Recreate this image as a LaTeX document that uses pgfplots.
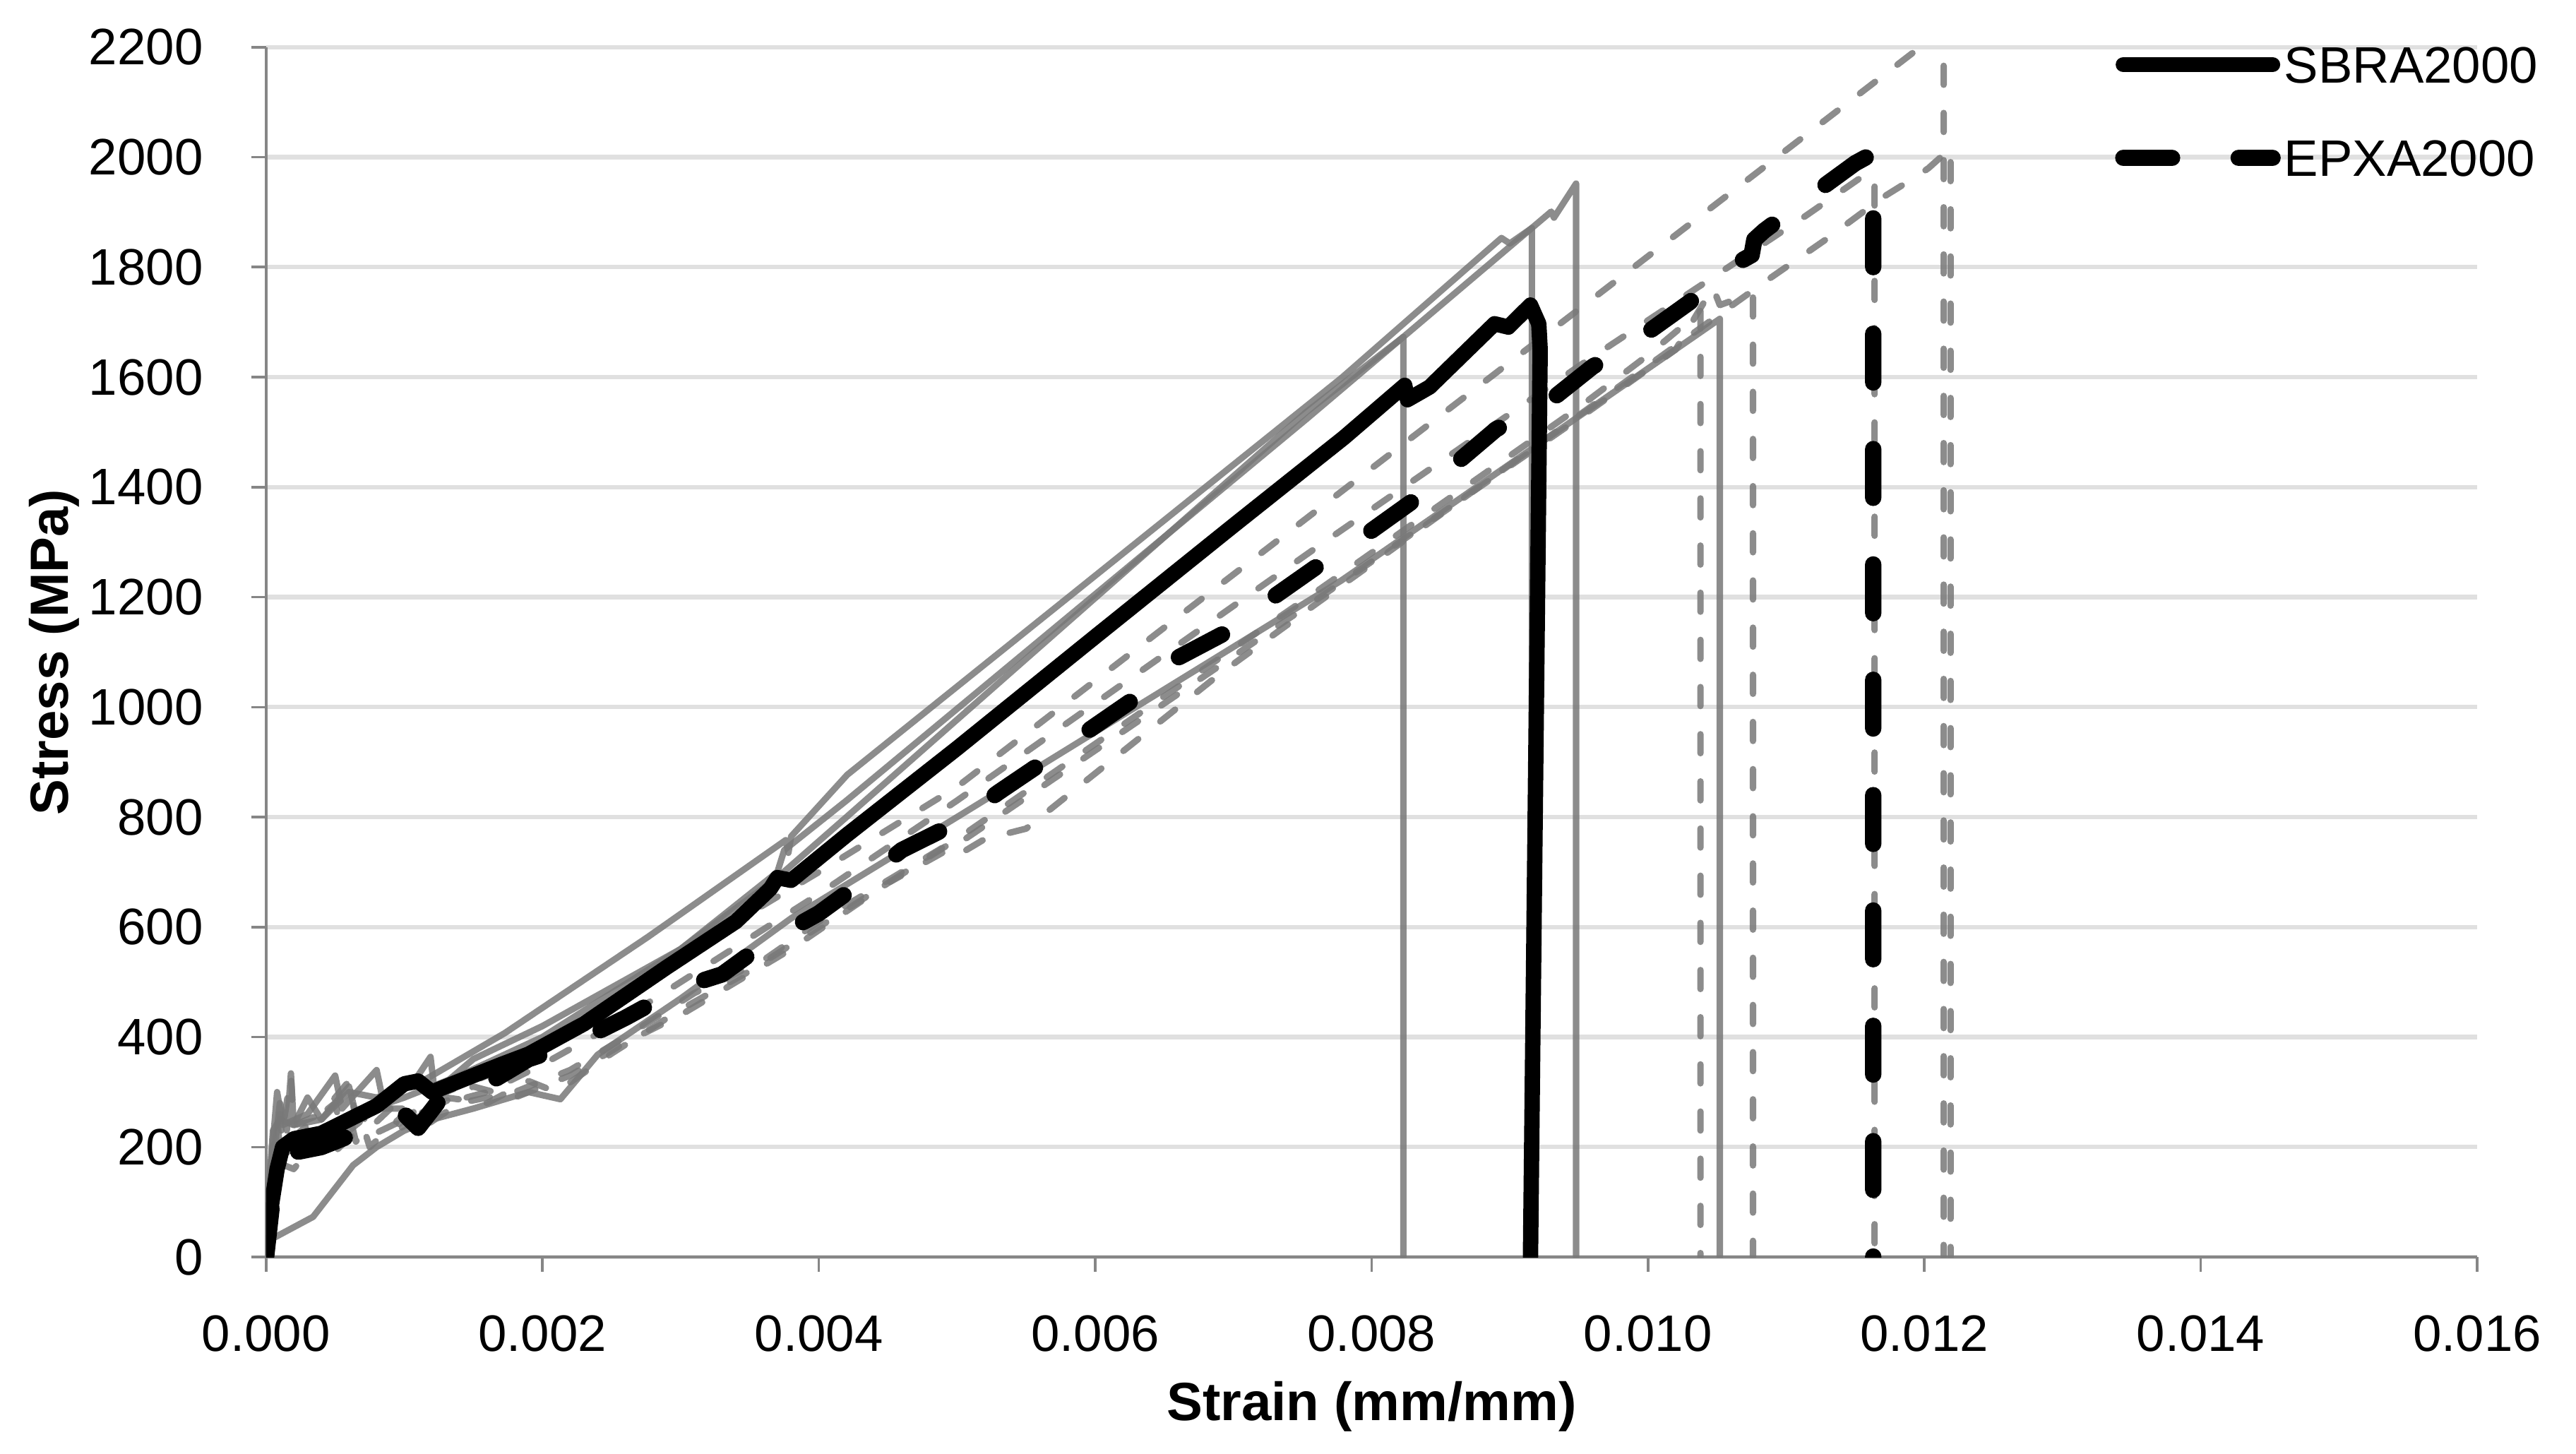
\documentclass[border=0pt]{standalone}
\usepackage{fontspec}
\setmainfont{Liberation Sans}
\usepackage{pgfplots}
\pgfplotsset{compat=1.18}
\definecolor{specgray}{RGB}{120,120,120}
\definecolor{gridgray}{RGB}{224,224,224}
\definecolor{axgray}{RGB}{134,134,134}
\begin{document}
\begin{tikzpicture}
\path[use as bounding box] (-51.9pt,-38.4pt) rectangle (450.6pt,245.2pt);
\begin{axis}[
  scale only axis, width=431.3pt, height=236.0pt,
  xmin=0, xmax=0.016, ymin=0, ymax=2200,
  axis lines*=left, axis line style={-, draw=axgray, line width=0.55pt},
  xtick={0,0.002,...,0.016}, ytick={0,200,...,2200},
  scaled x ticks=false, scaled y ticks=false,
  tick align=outside, major tick length=2.9pt,
  tick style={draw=axgray, line width=0.5pt},
  ymajorgrids, grid style={draw=gridgray, line width=0.85pt},
  /pgf/number format/assume math mode=true,
  /pgf/number format/1000 sep={},
  tick label style={font=\fontsize{10}{12}\selectfont, inner sep=0pt},
  xticklabel style={/pgf/number format/fixed, /pgf/number format/fixed zerofill, /pgf/number format/precision=3},
  xticklabel style={anchor=north, yshift=-8.3pt},
  yticklabel style={anchor=east, xshift=-9.2pt},
  xlabel={\textbf{Strain (mm/mm)}}, ylabel={\textbf{Stress (MPa)}},
  label style={font=\fontsize{10.5}{12}\selectfont},
  xlabel style={at={(axis description cs:0.5,0)}, anchor=center, yshift=-29.1pt},
  ylabel style={at={(axis description cs:-0.0958,0.5)}, anchor=center},
  legend style={at={(rel axis cs:0.8363,0.947)}, anchor=west, draw=none, fill=none,
    inner sep=0pt, outer sep=0pt, row sep=11pt,
    nodes={inner sep=0pt, text height=7.2pt, text depth=0pt},
    font=\fontsize{10}{12}\selectfont, column sep=0.7pt},
  legend cell align=left,
  legend image code/.code={\draw[#1] (0pt,0pt) -- (29.1pt,0pt);},
  every axis plot/.append style={line cap=round, line join=round},
  gs/.style={draw=specgray, draw opacity=0.85, line width=1.25pt},
  gd/.style={draw=specgray, draw opacity=0.85, line width=1.25pt, dash pattern=on 3.7pt off 5.5pt},
]
% ---------- SBRA specimens (gray solid) ----------
\addplot[gs, forget plot] coordinates {
(0,0) (0.00002,120) (0.00005,230) (0.0001,250) (0.0002,240) (0.0003,290) (0.0004,250)
(0.0006,300) (0.0008,290) (0.00114,321) (0.001726,407) (0.002763,582) (0.00376,758)
(0.00378,735) (0.0038,765) (0.004206,877) (0.00778,1598) (0.00894,1853) (0.009,1843)
(0.00916,1871) (0.00916,0)};
\addplot[gs, forget plot] coordinates {
(0,0) (0.00003,150) (0.00008,300) (0.00012,240) (0.0003,260) (0.0005,330) (0.00055,270)
(0.0008,340) (0.00085,280) (0.0011,330) (0.00119,364) (0.00122,300) (0.0015,360) (0.002,420)
(0.003,560) (0.0037,700) (0.00375,740) (0.0042,830) (0.00753,1524) (0.0093,1901) (0.00932,1890)
(0.00948,1952) (0.00948,0)};
\addplot[gs, forget plot] coordinates {
(0,0) (0.00004,150) (0.0001,280) (0.00015,230) (0.00018,334) (0.0002,240) (0.0004,250)
(0.0006,310) (0.00065,260) (0.001,290) (0.0014,330) (0.002,400) (0.003,560) (0.0037,690)
(0.0042,800) (0.00753,1537) (0.00823,1673) (0.00823,0)};
\addplot[gs, forget plot] coordinates {
(0,0) (0.00002,30) (0.00034,73) (0.00063,167) (0.0008,200) (0.001,230) (0.0012,250)
(0.0015,270) (0.0019,300) (0.00213,287) (0.0024,368) (0.003,470) (0.0038,616) (0.005,800)
(0.00778,1230) (0.00983,1586) (0.01052,1706) (0.01052,0)};
% ---------- EPXA specimens (gray dashed) ----------
\addplot[gd, forget plot] coordinates {
(0,0) (0.00004,120) (0.0001,200) (0.00018,330) (0.0002,240) (0.0004,260) (0.0006,320)
(0.00065,250) (0.0009,300) (0.00095,240) (0.0012,290) (0.0016,330) (0.002,380) (0.0025,460)
(0.0032,580) (0.004,700) (0.005,855) (0.0076,1357) (0.00996,1812) (0.01197,2200)
(0.01214,2232) (0.01214,0)};
\addplot[gd, forget plot] coordinates {
(0,0) (0.00004,100) (0.0001,180) (0.0003,220) (0.0005,210) (0.0007,260) (0.00075,220)
(0.001,250) (0.0013,280) (0.0016,300) (0.002,350) (0.0025,420) (0.003,500) (0.0035,580)
(0.004,660) (0.005,830) (0.0076,1290) (0.0095,1620) (0.01114,1893) (0.01157,1968)
(0.01164,1966) (0.01164,0)};
\addplot[gd, forget plot] coordinates {
(0,0) (0.00005,110) (0.0001,170) (0.0002,160) (0.0004,220) (0.00045,180) (0.0007,240)
(0.00075,200) (0.001,260) (0.0011,230) (0.0014,280) (0.0018,300) (0.0022,340) (0.0026,400)
(0.0031,480) (0.0036,540) (0.004,610) (0.0049,745) (0.005,730) (0.0052,760) (0.0055,779)
(0.0069,1060) (0.0076,1188) (0.01085,1774) (0.01128,1849) (0.0117,1927) (0.01195,1966)
(0.01203,1980) (0.01219,2016) (0.01219,0)};
\addplot[gd, forget plot] coordinates {
(0,0) (0.00003,150) (0.00008,250) (0.0001,200) (0.0003,230) (0.00035,190) (0.0006,260)
(0.00065,210) (0.0009,270) (0.00095,230) (0.0013,290) (0.0016,280) (0.0019,320) (0.0021,300)
(0.0025,370) (0.003,450) (0.0035,520) (0.004,600) (0.005,760) (0.0076,1210) (0.0095,1545)
(0.01,1640) (0.01038,1720) (0.01038,0)};
\addplot[gd, forget plot] coordinates {
(0,0) (0.00005,200) (0.0001,260) (0.00012,200) (0.0003,240) (0.0005,280) (0.00055,220)
(0.0008,270) (0.0012,270) (0.0015,310) (0.0018,290) (0.0022,330) (0.0026,390) (0.003,440)
(0.0034,500) (0.0038,560) (0.0045,680) (0.005,750) (0.0076,1195) (0.0095,1525) (0.0102,1650)
(0.01047,1763) (0.01052,1731) (0.01073,1750) (0.01076,1750) (0.01076,0)};
% ---------- representative curves ----------
\addplot[black, line width=3pt] coordinates {
(0,0) (0.00003,80) (0.00008,160) (0.00012,200) (0.0002,215) (0.0004,225) (0.0006,250)
(0.0008,275) (0.001,315) (0.0011,320) (0.0012,300) (0.0014,320) (0.0017,350) (0.0019,369)
(0.0023,424) (0.0029,527) (0.0034,610) (0.00365,670) (0.0037,690) (0.0038,685) (0.0042,767)
(0.005,925) (0.006,1128) (0.007,1330) (0.0078,1490) (0.00824,1585) (0.00826,1559)
(0.00842,1582) (0.00889,1697) (0.00899,1691) (0.00915,1731) (0.00921,1697) (0.00922,1650)
(0.00915,0)};
\addlegendentry{SBRA2000}
\addplot[black, line width=3.2pt, dash pattern=on 9.5pt off 13pt] coordinates {
(0,0) (0.00004,90) (0.0001,160) (0.0002,190) (0.0004,200) (0.0006,220) (0.0008,245)
(0.001,260) (0.0011,235) (0.0013,300) (0.0016,315) (0.0019,360) (0.0022,385) (0.0026,435)
(0.003,490) (0.0033,514) (0.0036,569) (0.004,625) (0.0043,680) (0.0046,740) (0.005,790)
(0.0053,845) (0.0056,896) (0.006,966) (0.0063,1018) (0.0066,1090) (0.007,1143) (0.0073,1202)
(0.0076,1255) (0.008,1321) (0.0083,1375) (0.0086,1441) (0.0089,1505) (0.0093,1559)
(0.0096,1619) (0.01,1682) (0.0103,1736) (0.0106,1801) (0.01075,1822) (0.01077,1850)
(0.01084,1866) (0.0112,1934) (0.0115,1989) (0.01158,2000) (0.01163,1995) (0.01163,0)};
\addlegendentry{EPXA2000}
\end{axis}
\end{tikzpicture}
\end{document}
